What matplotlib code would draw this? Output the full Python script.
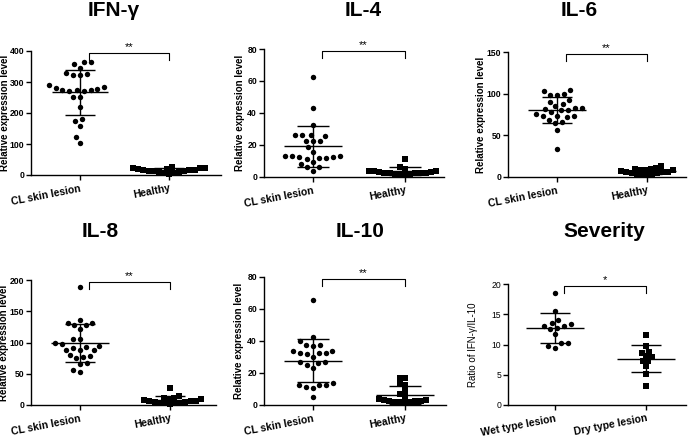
import numpy as np
import matplotlib.pyplot as plt

plt.rcParams['font.family'] = ['Liberation Sans', 'DejaVu Sans']

W, H = 700, 438

titles = ['IFN-γ', 'IL-4', 'IL-6', 'IL-8', 'IL-10', 'Severity']
groups = [['CL skin lesion', 'Healthy']] * 5 + [['Wet type lesion', 'Dry type lesion']]
ylabels = ['Relative expression level'] * 5 + ['Ratio of IFN-γ/IL-10']
yticks = [[0, 100, 200, 300, 400],
          [0, 20, 40, 60, 80],
          [0, 50, 100, 150],
          [0, 50, 100, 150, 200],
          [0, 20, 40, 60, 80],
          [0, 5, 10, 15, 20]]
stars = ['**', '**', '**', '**', '**', '*']

# values
ifng_cl = [364, 345, 358, 364, 329, 321, 323, 326, 284, 279, 280, 289, 274,
           270, 274, 270, 274, 251, 251, 220, 174, 181, 157, 122, 104]
ifng_h = [25, 23, 22, 21, 20, 18, 17, 16, 15, 14, 13, 12, 11, 9, 8, 6, 4]
il4_cl = [62.2, 43.2, 32.8, 26.4, 25.4, 26.4, 26.4, 22.2, 22.2, 22.7, 18.5, 15.4, 13.3,
          12.5, 11.9, 11.2, 11.6, 12.5, 13.3, 13.3, 9.1, 8.3, 6.2, 6.0, 4.0]
il4_h = [11.5, 6.5, 5, 4, 3.8, 3.5, 3.2, 3, 2.8, 2.6, 2.5, 2.3, 2.2, 2, 1.8, 1.6, 1.5]
il6_cl = [104, 103, 100, 99, 99, 92, 90, 88, 85, 83, 82, 83, 81, 80, 78, 76, 73,
          73, 73, 72, 69, 65, 66, 57, 34]
il6_h = [13, 11, 10, 9.5, 9, 8.5, 8, 7, 6.5, 6, 5.5, 5, 4.5, 4, 3.5, 3, 2.5]
il8_cl = [188.8, 136, 132, 127.7, 127.7, 131, 121, 97.9, 105, 105, 93.6, 88.3, 88.3,
          88.3, 99, 92, 95, 77, 74.5, 78.7, 79.8, 65, 67, 53, 56]
il8_h = [27, 14, 12, 11, 10, 9, 8, 7, 7, 6, 5, 5, 4, 4, 3, 3, 2]
il10_cl = [65.6, 42.3, 40, 37.5, 37.5, 36.9, 33.5, 32.3, 31.9, 32.3, 32.3, 33.5, 29.8,
           27.1, 26.25, 25.2, 26.7, 23.3, 13.75, 12.7, 11.5, 10.4, 12.7, 12.7, 5.2]
il10_h = [16.7, 17.1, 12.7, 13.3, 8.75, 6.7, 5.4, 3.1, 2.5, 2.1, 1.9, 1.7, 1.9, 2.3,
          2.7, 3.1, 3.75]
wet = [18.5, 15.6, 14.1, 13.6, 13.4, 13.1, 13.0, 12.8, 12.5, 11.7, 10.3, 10.2, 9.8, 9.5]
dry = [11.5, 9.7, 8.8, 8.6, 8.1, 7.9, 7.3, 7.2, 6.5, 5.2, 3.2]

data = [(ifng_cl, ifng_h), (il4_cl, il4_h), (il6_cl, il6_h),
        (il8_cl, il8_h), (il10_cl, il10_h), (wet, dry)]

# layout in pixels: axes box (x0, ytop, x1, ybottom), category centres, title / ylabel centres
boxes = [(31, 51, 221, 175), (264, 49, 444, 177), (508, 52, 686, 177),
         (31, 280, 216, 405), (264, 277, 446, 405), (508, 284, 686, 405)]
centres = [(80, 169), (313, 405), (557, 647), (80, 170), (313, 405), (555, 646)]
title_pos = [(114, 16.5), (363, 16.5), (579, 16.5), (100, 237), (360, 237), (604, 237)]
ylab_x = [4.5, 240, 481, 4.5, 239, 473]


def swarm(vals, ppu_y, ppu_x, d):
    # simple beeswarm in pixel space: nearest free spot to the centre line
    ys = np.asarray(vals, float) * ppu_y
    order = np.argsort(ys)
    placed_x, placed_y = [], []
    offs = np.zeros(len(ys))
    for i in order:
        y = ys[i]
        cands = [0.0]
        for px, py in zip(placed_x, placed_y):
            dy = abs(y - py)
            if dy < d:
                dx = np.sqrt(d * d - dy * dy)
                cands += [px - dx, px + dx]
        cands = sorted(cands, key=lambda c: (abs(c), c))
        for c in cands:
            ok = all((c - px) ** 2 + (y - py) ** 2 >= d * d - 1e-6
                     for px, py in zip(placed_x, placed_y))
            if ok:
                break
        placed_x.append(c)
        placed_y.append(y)
        offs[i] = c / ppu_x
    return offs


fig = plt.figure(figsize=(W / 100, H / 100), dpi=100)

for k in range(6):
    x0, yt, x1, yb = boxes[k]
    c0, c1 = centres[k]
    ax = fig.add_axes([x0 / W, 1 - yb / H, (x1 - x0) / W, (yb - yt) / H])
    ymax = yticks[k][-1]
    ax.set_ylim(0, ymax)
    ax.set_xlim((x0 - c0) / (c1 - c0), (x1 - c0) / (c1 - c0))
    ppu_y = (yb - yt) / ymax
    ppu_x = c1 - c0
    wt = 'normal' if k == 5 else 'bold'

    for i, vals in enumerate(data[k]):
        vals = np.asarray(vals, float)
        mk = 'o' if i == 0 else 's'
        d = 7.0 if i == 0 else 5.2
        offs = swarm(vals, ppu_y, ppu_x, d)
        ax.plot(i + offs, vals, mk, ms=3.9 if i == 0 else 3.7, color='black', mew=0,
                clip_on=False, zorder=2)
        m = vals.mean()
        s = vals.std(ddof=1)
        ax.hlines(m, i - 0.32, i + 0.32, color='black', lw=1.0, zorder=3)
        ax.hlines([m - s, m + s], i - 0.17, i + 0.17, color='black', lw=1.0, zorder=3)
        ax.vlines(i, m - s, m + s, color='black', lw=1.0, zorder=3)

    # significance bracket
    by = ymax * 0.985
    drop = 7 / ppu_y
    ax.plot([0.1, 0.1, 1, 1], [by - drop, by, by, by - drop], color='black', lw=0.8,
            clip_on=False)
    ax.text(0.55, by + 1.0 / ppu_y, stars[k], ha='center', va='bottom', fontsize=8,
            clip_on=False)

    for sp_ in ['top', 'right']:
        ax.spines[sp_].set_visible(False)
    for sp_ in ['left', 'bottom']:
        ax.spines[sp_].set_linewidth(1.0)

    ax.set_yticks(yticks[k])
    ax.set_yticklabels([str(t) for t in yticks[k]], fontsize=6.2, fontweight=wt)
    ax.set_xticks([0, 1])
    ax.set_xticklabels(groups[k], fontsize=7.5, fontweight='bold', rotation=11,
                       ha='right', rotation_mode='anchor')
    ax.tick_params(axis='y', length=3.5, width=1.0, pad=1.5)
    ax.tick_params(axis='x', length=3.5, width=1.0, pad=2.5)

    ax.text((ylab_x[k] - x0) / (x1 - x0), 0.5, ylabels[k], transform=ax.transAxes,
            rotation=90, ha='center', va='center', fontsize=7.0, fontweight=wt)

    tx, ty = title_pos[k]
    fig.text(tx / W, 1 - ty / H, titles[k], ha='center', va='baseline', fontsize=15,
             fontweight='bold')

fig.savefig('out.png', dpi=100)
